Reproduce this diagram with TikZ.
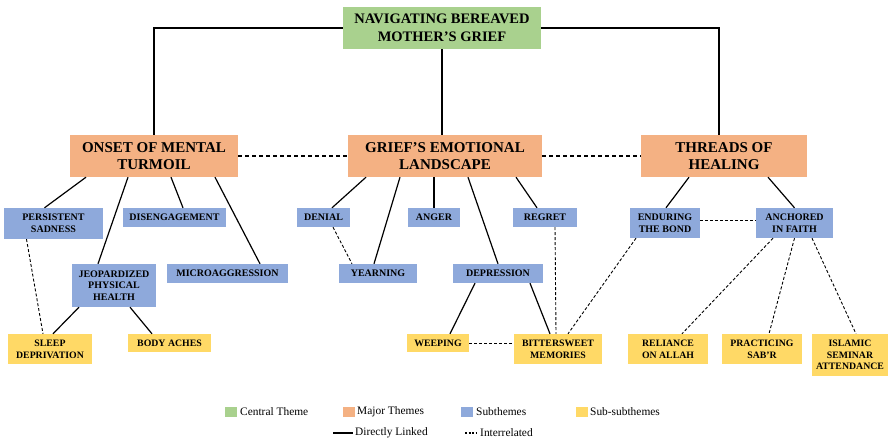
\documentclass[tikz,border=0pt]{standalone}
\usepackage{fontspec}
\setmainfont{Liberation Serif}
\usetikzlibrary{shapes.geometric, arrows}

\definecolor{centralgreen}{HTML}{A9D18E}
\definecolor{majororange}{HTML}{F4B183}
\definecolor{subblue}{HTML}{8EA9DB}
\definecolor{subsubyellow}{HTML}{FFD966}

\tikzstyle{theme} = [
    rectangle,
    inner sep=0pt,
    align=center
]
\tikzstyle{central} = [
    theme,
    fill=centralgreen,
    minimum width=198pt,
    minimum height=42pt,
    font=\fontsize{14.5}{17.5}\selectfont\bfseries
]
\tikzstyle{major} = [
    theme,
    fill=majororange,
    minimum height=42pt,
    font=\fontsize{15}{17.7}\selectfont\bfseries
]
\tikzstyle{subtheme} = [
    theme,
    fill=subblue,
    font=\fontsize{10}{11.7}\selectfont\bfseries
]
\tikzstyle{subsub} = [
    theme,
    fill=subsubyellow,
    font=\fontsize{9.8}{11.7}\selectfont\bfseries
]
\tikzstyle{swatch} = [rectangle, minimum width=12pt, minimum height=10pt, inner sep=0pt]
\tikzstyle{legendtext} = [anchor=west, inner sep=0pt, font=\fontsize{11.4}{13}\selectfont]
\tikzstyle{link} = [line width=1.2pt]
\tikzstyle{interlink} = [line width=0.9pt, dash pattern=on 3pt off 2pt]
\tikzstyle{themelink} = [line width=1.5pt, dash pattern=on 4pt off 3pt]

\begin{document}
\begin{tikzpicture}[x=1pt, y=-1pt]

\useasboundingbox (0,0) rectangle (891,447);

\node (central) [central] at (442,28) {NAVIGATING BEREAVED\\MOTHER’S GRIEF};

\node (onset) [major, minimum width=168pt] at (154,156) {ONSET OF MENTAL\\TURMOIL};

\node (grief) [major, minimum width=194pt] at (445,156) {GRIEF’S EMOTIONAL\\LANDSCAPE};

\node (threads) [major, minimum width=166pt] at (724,156) {THREADS OF\\HEALING};

\node (sadness) [subtheme, minimum width=99pt, minimum height=31pt] at (53.5,223.5)
{PERSISTENT\\SADNESS};

\node (disengage) [subtheme, minimum width=103pt, minimum height=19pt] at (174.5,217.5)
{DISENGAGEMENT};

\node (jeopardy) [subtheme, minimum width=84pt, minimum height=43pt] at (114,285.5)
{JEOPARDIZED\\PHYSICAL\\HEALTH};

\node (microagg) [subtheme, minimum width=121pt, minimum height=19pt] at (227.5,273.5)
{MICROAGGRESSION};

\node (sleep) [subsub, minimum width=84pt, minimum height=30pt] at (50,349)
{SLEEP\\DEPRIVATION};

\node (aches) [subsub, minimum width=83pt, minimum height=18pt] at (169.5,343)
{BODY ACHES};

\node (denial) [subtheme, minimum width=53pt, minimum height=19pt] at (323.5,217.5)
{DENIAL};

\node (anger) [subtheme, minimum width=52pt, minimum height=19pt] at (434,217.5)
{ANGER};

\node (regret) [subtheme, minimum width=64pt, minimum height=19pt] at (545,217.5)
{REGRET};

\node (yearning) [subtheme, minimum width=78pt, minimum height=19pt] at (378,273.5)
{YEARNING};

\node (depression) [subtheme, minimum width=90pt, minimum height=19pt] at (498,273.5)
{DEPRESSION};

\node (weeping) [subsub, minimum width=62pt, minimum height=18pt] at (438,343)
{WEEPING};

\node (bittersweet) [subsub, minimum width=88pt, minimum height=30pt] at (558,349)
{BITTERSWEET\\MEMORIES};

\node (enduring) [subtheme, minimum width=70pt, minimum height=30pt] at (665,223)
{ENDURING\\THE BOND};

\node (anchored) [subtheme, minimum width=77pt, minimum height=30pt] at (794.5,223)
{ANCHORED\\IN FAITH};

\node (reliance) [subsub, minimum width=80pt, minimum height=30pt] at (668,349)
{RELIANCE\\ON ALLAH};

\node (sabr) [subsub, minimum width=80pt, minimum height=30pt] at (762,349)
{PRACTICING\\SAB’R};

\node (seminar) [subsub, minimum width=76pt, minimum height=42pt] at (850,355)
{ISLAMIC\\SEMINAR\\ATTENDANCE};

\draw [link] (central.west) -| (onset.north);
\draw [link] (central.east) -| ([xshift=-5pt]threads.north);
\draw [link] (central.south) -- (central.south |- grief.north);

\draw [themelink] (onset.east) -- (grief.west);
\draw [themelink] (grief.east) -- (threads.west);

\draw [link] ([xshift=-68pt]onset.south) -- ([xshift=-9pt]sadness.north);
\draw [link] ([xshift=-26pt]onset.south) -- ([xshift=-16pt]jeopardy.north);
\draw [link] ([xshift=17pt]onset.south) -- ([xshift=8.5pt]disengage.north);
\draw [link] ([xshift=61pt]onset.south) -- ([xshift=32.5pt]microagg.north);
\draw [interlink] ([xshift=-27pt]sadness.south) -- ([xshift=-7pt]sleep.north);
\draw [link] ([xshift=-35pt]jeopardy.south) -- ([xshift=3pt]sleep.north);
\draw [link] ([xshift=16pt]jeopardy.south) -- ([xshift=-17.5pt]aches.north);

\draw [link] ([xshift=-79pt]grief.south) -- ([xshift=8.5pt]denial.north);
\draw [link] ([xshift=-45pt]grief.south) -- ([xshift=-4pt]yearning.north);
\draw [link] (anger.north) -- (anger.north |- grief.south);
\draw [link] ([xshift=23pt]grief.south) -- (depression.north);
\draw [link] ([xshift=71pt]grief.south) -- ([xshift=-8pt]regret.north);
\draw [interlink] ([xshift=9.5pt]denial.south) -- ([xshift=-26pt]yearning.north);
\draw [link] ([xshift=-23pt]depression.south) -- ([xshift=12pt]weeping.north);
\draw [link] ([xshift=32pt]depression.south) -- ([xshift=-8pt]bittersweet.north);
\draw [interlink] ([xshift=10pt]regret.south) -- ([xshift=-2pt]bittersweet.north);
\draw [interlink] (weeping.east) -- (weeping.east -| bittersweet.west);

\draw [link] ([xshift=-35pt]threads.south) -- ([xshift=1pt]enduring.north);
\draw [link] ([xshift=44pt]threads.south) -- (anchored.north);
\draw [interlink] ([yshift=3pt]enduring.east) -- ([yshift=3pt]anchored.west);
\draw [interlink] ([xshift=-29pt]enduring.south) -- ([xshift=10pt]bittersweet.north);
\draw [interlink] ([xshift=-21.5pt]anchored.south) -- ([xshift=14pt]reliance.north);
\draw [interlink] (anchored.south) -- ([xshift=7pt]sabr.north);
\draw [interlink] ([xshift=17.5pt]anchored.south) -- ([xshift=6pt]seminar.north);

\node (keycentral) [swatch, fill=centralgreen] at (231,412) {};
\node (keycentraltext) [legendtext] at (240,412) {Central Theme};
\node (keymajor) [swatch, fill=majororange] at (349,412) {};
\node (keymajortext) [legendtext] at (357,412) {Major Themes};
\node (keysub) [swatch, fill=subblue] at (467,412) {};
\node (keysubtext) [legendtext] at (476,412) {Subthemes};
\node (keysubsub) [swatch, fill=subsubyellow] at (582,412) {};
\node (keysubsubtext) [legendtext] at (590,412) {Sub-subthemes};

\coordinate (solidstart) at (333,433);
\coordinate (solidend) at (353,433);
\node (solidtext) [legendtext] at (355,433) {Directly Linked};
\coordinate (dotstart) at (465,433);
\coordinate (dotend) at (477,433);
\node (dottext) [legendtext] at (480,433) {Interrelated};

\draw [line width=2.4pt] (solidstart) -- (solidend);
\draw [line width=2pt, dash pattern=on 2pt off 1.5pt] (dotstart) -- (dotend);

\end{tikzpicture}
\end{document}
